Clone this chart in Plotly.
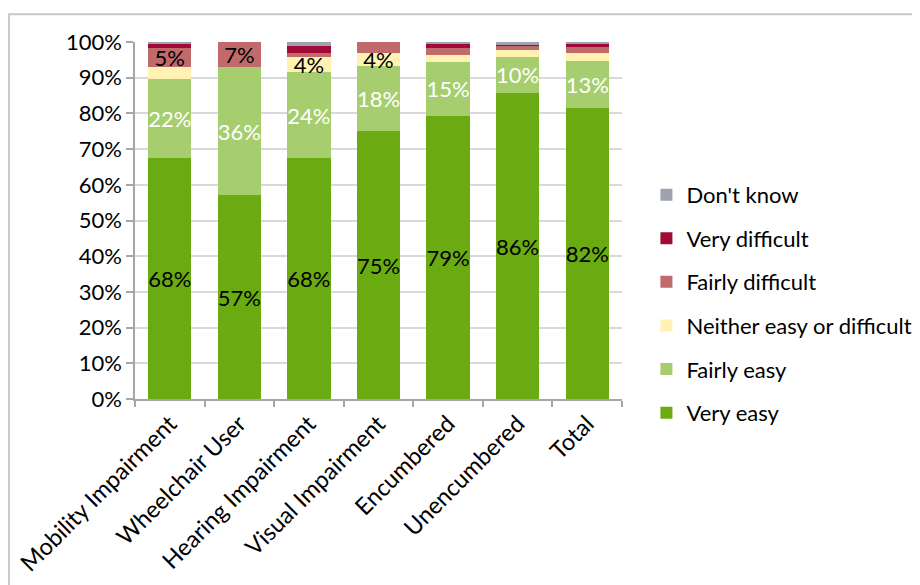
import plotly.graph_objects as go

categories = ["Mobility Impairment", "Wheelchair User", "Hearing Impairment",
              "Visual Impairment", "Encumbered", "Unencumbered", "Total"]

very_easy = [67.6, 57.1, 67.6, 75.0, 79.2, 85.7, 81.5]
fairly_easy = [22.0, 35.9, 23.9, 18.4, 15.3, 10.2, 13.3]
neither = [3.5, 0.0, 4.3, 3.6, 1.9, 2.0, 2.0]
fairly_difficult = [5.3, 7.0, 1.1, 3.0, 2.0, 1.0, 1.9]
very_difficult = [1.2, 0.0, 2.0, 0.0, 1.1, 0.4, 0.8]
dont_know = [0.4, 0.0, 1.0, 0.0, 0.4, 0.7, 0.4]

series_names = ["Very easy", "Fairly easy", "Neither easy or difficult",
                "Fairly difficult", "Very difficult", "Don't know"]
series_values = [very_easy, fairly_easy, neither, fairly_difficult, very_difficult, dont_know]
series_colors = ["#6AAB12", "#A6CE6E", "#FFF2B3", "#C06A6B", "#A20A36", "#9EA2AE"]
label_colors = ["#000000", "#FFFFFF", "#000000", "#000000", "#FFFFFF", "#000000"]
# which segments carry a data label
show_labels = [
    [True] * 7,
    [True] * 7,
    [False, False, True, True, False, False, False],
    [True, True, False, False, False, False, False],
    [False] * 7,
    [False] * 7,
]

FONT = "Lato"
FS = 22
W, H = 920, 585
ML, MR, MT, MB = 127, 306.4, 33.7, 193.7
pw = W - ML - MR
ph = H - MT - MB

fig = go.Figure()
n = len(series_names)
for i, (name, vals, col) in enumerate(zip(series_names, series_values, series_colors)):
    text = [f"{round(v)}%" if s else "" for v, s in zip(vals, show_labels[i])]
    fig.add_trace(go.Bar(
        x=categories, y=vals, name=name, marker=dict(color=col, line=dict(width=0)),
        text=text, textposition="inside", insidetextanchor="middle", textangle=0,
        constraintext="none", cliponaxis=False,
        textfont=dict(family=FONT, size=FS, color=label_colors[i]),
        legendgroup=name, legendrank=n - i, hoverinfo="skip",
    ))

fig.update_layout(
    width=W, height=H, barmode="stack", bargap=0.378,
    margin=dict(l=ML, r=MR, t=MT, b=MB, autoexpand=False),
    paper_bgcolor="white", plot_bgcolor="white",
    font=dict(family=FONT, size=FS, color="#000000"),
    legend=dict(
        x=(638 - ML) / pw, xanchor="left",
        y=(H - MB - 296) / ph, yanchor="middle",
        traceorder="grouped", tracegroupgap=12,
        font=dict(family=FONT, size=FS, color="#000000"),
        bgcolor="rgba(0,0,0,0)",
    ),
    showlegend=True,
)
fig.update_yaxes(
    range=[0, 100], tickvals=list(range(0, 101, 10)),
    ticktext=[f"{v}%" for v in range(0, 101, 10)],
    showgrid=True, gridcolor="#D9D9D9", gridwidth=1.5,
    showline=True, linecolor="#A6A6A6", linewidth=1.5,
    ticks="outside", ticklen=7, tickcolor="#A6A6A6", tickwidth=1.5,
    tickfont=dict(family=FONT, size=FS), zeroline=False,
)
fig.update_xaxes(
    tickangle=-45, showline=True, linecolor="#A6A6A6", linewidth=1.5,
    ticks="outside", ticklen=6, tickcolor="#A6A6A6", tickwidth=1.5,
    tickson="boundaries", tickfont=dict(family=FONT, size=23.5),
)
# chart-area border
fig.add_shape(type="rect", xref="paper", yref="paper",
              x0=(1 - ML) / pw, x1=(W + 20 - ML) / pw,
              y0=(H - MB - (H + 20)) / ph, y1=(H - MB - 6) / ph,
              line=dict(color="#C8C8C8", width=2), fillcolor="rgba(0,0,0,0)", layer="below")

fig.write_html("out.html")
